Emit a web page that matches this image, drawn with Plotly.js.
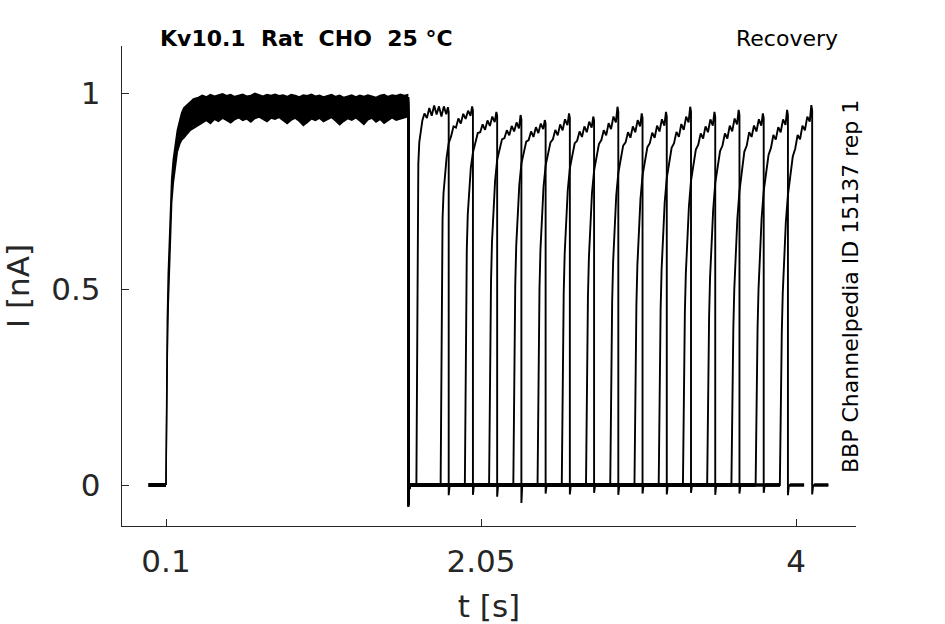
<!DOCTYPE html>
<html>
<head>
<meta charset="utf-8">
<script src="https://cdn.plot.ly/plotly-3.0.1.min.js"></script>
<style>
  body { margin: 0; background: #fff; }
</style>
</head>
<body>
<div id="recovery_plot" style="width:945px;height:624px"></div>
<script>
// holding level before the prepulse
const preBaseT = [-0.01, 0.1];
const preBaseI = [0, 0];

// prepulse: envelope of the 16 overlapping sweeps (lower / upper edge)
const prepT = [0.1, 0.103, 0.108, 0.114, 0.125, 0.135, 0.145, 0.158, 0.17, 0.185, 0.197, 0.21, 0.23, 0.25, 0.27,
  0.3, 0.325, 0.35, 0.375, 0.4, 0.425, 0.45, 0.475, 0.5, 0.525,
  0.55, 0.575, 0.6, 0.625, 0.65, 0.675, 0.7, 0.725, 0.75, 0.775,
  0.8, 0.825, 0.85, 0.875, 0.9, 0.925, 0.95, 0.975, 1.0, 1.025,
  1.05, 1.075, 1.1, 1.125, 1.15, 1.175, 1.2, 1.225, 1.25, 1.275,
  1.3, 1.325, 1.35, 1.375, 1.4, 1.425, 1.45, 1.475, 1.5, 1.525,
  1.55, 1.575, 1.6];
const prepLow = [0, 0.15, 0.33, 0.46, 0.63, 0.72, 0.77, 0.82, 0.85, 0.87, 0.88, 0.885, 0.895, 0.905, 0.91,
  0.918, 0.925, 0.93, 0.922, 0.933, 0.928, 0.936, 0.93, 0.924, 0.932,
  0.937, 0.93, 0.934, 0.926, 0.935, 0.939, 0.932, 0.927, 0.936, 0.933,
  0.938, 0.929, 0.922, 0.931, 0.936, 0.928, 0.917, 0.925, 0.934, 0.93,
  0.936, 0.927, 0.933, 0.938, 0.929, 0.919, 0.928, 0.935, 0.931, 0.937,
  0.929, 0.92, 0.932, 0.936, 0.926, 0.933, 0.923, 0.93, 0.937, 0.931,
  0.934, 0.938, 0.94];
const prepHigh = [0, 0.22, 0.42, 0.54, 0.7, 0.78, 0.83, 0.875, 0.905, 0.93, 0.95, 0.962, 0.97, 0.978, 0.985,
  0.989, 0.994, 0.99, 0.996, 0.992, 0.995, 0.998, 0.993, 0.996, 0.991,
  0.995, 0.997, 0.992, 0.994, 0.999, 0.995, 0.992, 0.996, 0.994, 0.997,
  0.993, 0.995, 0.991, 0.996, 0.994, 0.99, 0.995, 0.993, 0.997, 0.992,
  0.994, 0.99, 0.993, 0.996, 0.991, 0.994, 0.989, 0.993, 0.995, 0.99,
  0.994, 0.991, 0.995, 0.992, 0.989, 0.994, 0.996, 0.991, 0.995, 0.993,
  0.997, 0.994, 0.996];

// end of prepulse and its tail spike
const prepEnd = 1.6;
const prepEndI = [0.95, 0.97, 0.93, 0.99, 0.94, 0.96, 0.98, 0.935, 0.975, 0.945, 0.99, 0.93, 0.965, 0.955, 0.985, 0.94];
const prepSpike = [-0.055, -0.04, -0.05, -0.045, -0.055, -0.035, -0.05, -0.045, -0.04, -0.055, -0.05, -0.045, -0.04, -0.05, -0.055, -0.045];

// test pulses: start time of each sweep and the current shape after it
const testStart = [1.65, 1.8, 1.95, 2.1, 2.25, 2.4, 2.55, 2.7, 2.85, 3.0, 3.15, 3.3, 3.45, 3.6, 3.75, 3.9];
const testOffset = [0, 0.006, 0.012, 0.018, 0.027, 0.037, 0.05, 0.065, 0.08, 0.095, 0.11, 0.125, 0.14, 0.155, 0.17, 0.185, 0.195, 0.2];
const testI = [
  [0, 0.62, 0.82, 0.875, 0.905, 0.93, 0.948, 0.936, 0.962, 0.942, 0.968, 0.945, 0.966, 0.94, 0.966, 0.946, 0.964, 0.952],
  [0, 0.55, 0.68, 0.745, 0.795, 0.835, 0.872, 0.89, 0.915, 0.912, 0.935, 0.922, 0.947, 0.934, 0.955, 0.942, 0.966, 0.955],
  [0, 0.43, 0.6, 0.69, 0.76, 0.81, 0.848, 0.87, 0.898, 0.9, 0.92, 0.906, 0.93, 0.916, 0.94, 0.926, 0.952, 0.942],
  [0, 0.32, 0.52, 0.62, 0.7, 0.775, 0.83, 0.855, 0.882, 0.885, 0.905, 0.892, 0.916, 0.902, 0.925, 0.91, 0.944, 0.932],
  [0, 0.31, 0.51, 0.61, 0.69, 0.765, 0.82, 0.848, 0.876, 0.88, 0.902, 0.888, 0.913, 0.898, 0.922, 0.908, 0.931, 0.922],
  [0, 0.3, 0.5, 0.6, 0.685, 0.76, 0.815, 0.842, 0.874, 0.882, 0.906, 0.892, 0.92, 0.905, 0.933, 0.918, 0.948, 0.936],
  [0, 0.3, 0.49, 0.59, 0.68, 0.752, 0.808, 0.84, 0.872, 0.878, 0.902, 0.888, 0.915, 0.9, 0.927, 0.912, 0.94, 0.93],
  [0, 0.29, 0.48, 0.58, 0.67, 0.745, 0.802, 0.836, 0.87, 0.88, 0.905, 0.892, 0.923, 0.908, 0.94, 0.925, 0.965, 0.952],
  [0, 0.28, 0.47, 0.57, 0.66, 0.737, 0.796, 0.83, 0.866, 0.874, 0.9, 0.886, 0.915, 0.9, 0.931, 0.915, 0.948, 0.936],
  [0, 0.28, 0.46, 0.56, 0.65, 0.728, 0.79, 0.826, 0.862, 0.872, 0.899, 0.886, 0.917, 0.902, 0.933, 0.917, 0.952, 0.94],
  [0, 0.27, 0.45, 0.55, 0.64, 0.72, 0.783, 0.821, 0.86, 0.872, 0.901, 0.888, 0.921, 0.906, 0.94, 0.925, 0.965, 0.952],
  [0, 0.27, 0.44, 0.54, 0.63, 0.71, 0.776, 0.816, 0.856, 0.868, 0.897, 0.884, 0.915, 0.9, 0.933, 0.917, 0.952, 0.94],
  [0, 0.26, 0.43, 0.53, 0.62, 0.7, 0.77, 0.812, 0.852, 0.866, 0.897, 0.884, 0.917, 0.902, 0.935, 0.92, 0.957, 0.944],
  [0, 0.25, 0.4, 0.5, 0.6, 0.68, 0.75, 0.795, 0.85, 0.866, 0.9, 0.888, 0.917, 0.902, 0.933, 0.917, 0.948, 0.936],
  [0, 0.25, 0.4, 0.5, 0.6, 0.68, 0.75, 0.795, 0.842, 0.86, 0.893, 0.881, 0.913, 0.9, 0.933, 0.919, 0.957, 0.944],
  [0, 0.24, 0.39, 0.49, 0.59, 0.67, 0.74, 0.79, 0.838, 0.858, 0.893, 0.882, 0.917, 0.905, 0.94, 0.927, 0.969, 0.956],
];
const testDur = 0.2;
const testSpike = [-0.026, -0.025, -0.03, -0.046, -0.022, -0.024, -0.02, -0.025, -0.022, -0.024, -0.02, -0.025, -0.022, -0.02, -0.026, -0.024];
const tailDur = 0.1;

// tick labels
const xTicks = [0.1, 2.05, 4];
const xTickText = ['0.1', '2.05', '4'];
const yTicks = [0, 0.5, 1];
const yTickText = ['0', '0.5', '1'];

const ink = '#000000';
const axisInk = '#262626';
const font = 'DejaVu Sans, Liberation Sans, sans-serif';

const data = [];

data.push({
  x: preBaseT, y: preBaseI, mode: 'lines', type: 'scatter',
  line: { color: ink, width: 4 }, hoverinfo: 'skip', showlegend: false,
});

// prepulse band
data.push({
  x: prepT, y: prepLow, mode: 'lines', type: 'scatter',
  line: { color: ink, width: 1.5 }, hoverinfo: 'skip', showlegend: false,
});
data.push({
  x: prepT, y: prepHigh, mode: 'lines', type: 'scatter', fill: 'tonexty', fillcolor: ink,
  line: { color: ink, width: 1.5 }, hoverinfo: 'skip', showlegend: false,
});

// zero-current segments of all sweeps (thick because they overlap with noise)
const baseX = [];
const baseY = [];
testStart.forEach((t0) => {
  baseX.push(prepEnd + 0.012, t0, null, t0 + testDur + 0.012, t0 + testDur + tailDur, null);
  baseY.push(0, 0, null, 0, 0, null);
});
data.push({
  x: baseX, y: baseY, mode: 'lines', type: 'scatter',
  line: { color: ink, width: 3.5 }, hoverinfo: 'skip', showlegend: false, connectgaps: false,
});

// one trace per sweep: end of prepulse, test pulse, tail
testStart.forEach((t0, i) => {
  const x = [prepEnd, prepEnd, prepEnd + 0.005, prepEnd + 0.012, t0];
  const y = [prepEndI[i], prepSpike[i], -0.01, 0, 0];
  testOffset.forEach((dt, j) => {
    x.push(t0 + dt);
    y.push(testI[i][j]);
  });
  x.push(t0 + testDur, t0 + testDur + 0.005, t0 + testDur + 0.012, t0 + testDur + tailDur);
  y.push(testSpike[i], -0.004, 0, 0);
  data.push({
    x: x, y: y, mode: 'lines', type: 'scatter',
    line: { color: ink, width: 1.9 }, hoverinfo: 'skip', showlegend: false,
  });
});

const layout = {
  width: 945,
  height: 624,
  margin: { l: 122, r: 89, t: 46, b: 98, pad: 0 },
  paper_bgcolor: '#ffffff',
  plot_bgcolor: '#ffffff',
  showlegend: false,
  font: { family: font, color: axisInk },
  xaxis: {
    range: [-0.1724, 4.3714],
    tickvals: xTicks,
    ticktext: xTickText,
    ticks: 'inside',
    ticklen: 7,
    tickwidth: 1,
    tickcolor: axisInk,
    showline: true,
    linecolor: axisInk,
    linewidth: 1.2,
    showgrid: false,
    zeroline: false,
    tickfont: { family: font, size: 31, color: axisInk },
    ticklabelstandoff: 8,
    title: { text: 't [s]', font: { family: font, size: 31, color: axisInk }, standoff: 16 },
  },
  yaxis: {
    range: [-0.1046, 1.12],
    tickvals: yTicks,
    ticktext: yTickText,
    ticks: 'inside',
    ticklen: 7,
    tickwidth: 1,
    tickcolor: axisInk,
    showline: true,
    linecolor: axisInk,
    linewidth: 1.2,
    showgrid: false,
    zeroline: false,
    tickfont: { family: font, size: 31, color: axisInk },
    ticklabelstandoff: 14,
    title: { text: 'I [nA]', font: { family: font, size: 31, color: axisInk }, standoff: 12 },
  },
  annotations: [
    {
      text: '<b>Kv10.1\u00a0\u00a0Rat\u00a0\u00a0CHO\u00a0\u00a025\u00a0°C</b>',
      xref: 'paper', yref: 'paper', x: 0.049, y: 1.0146,
      xanchor: 'left', yanchor: 'middle', showarrow: false,
      font: { family: font, size: 22, color: ink },
    },
    {
      text: 'Recovery',
      xref: 'paper', yref: 'paper', x: 0.978, y: 1.0146,
      xanchor: 'right', yanchor: 'middle', showarrow: false,
      font: { family: font, size: 22, color: ink },
    },
    {
      text: 'BBP Channelpedia ID 15137 rep 1',
      xref: 'paper', yref: 'paper', x: 0.9918, y: 0.5,
      xanchor: 'center', yanchor: 'middle', textangle: -90, showarrow: false,
      font: { family: font, size: 22, color: ink },
    },
  ],
};

Plotly.newPlot('recovery_plot', data, layout, { staticPlot: true, displayModeBar: false });
</script>
</body>
</html>
